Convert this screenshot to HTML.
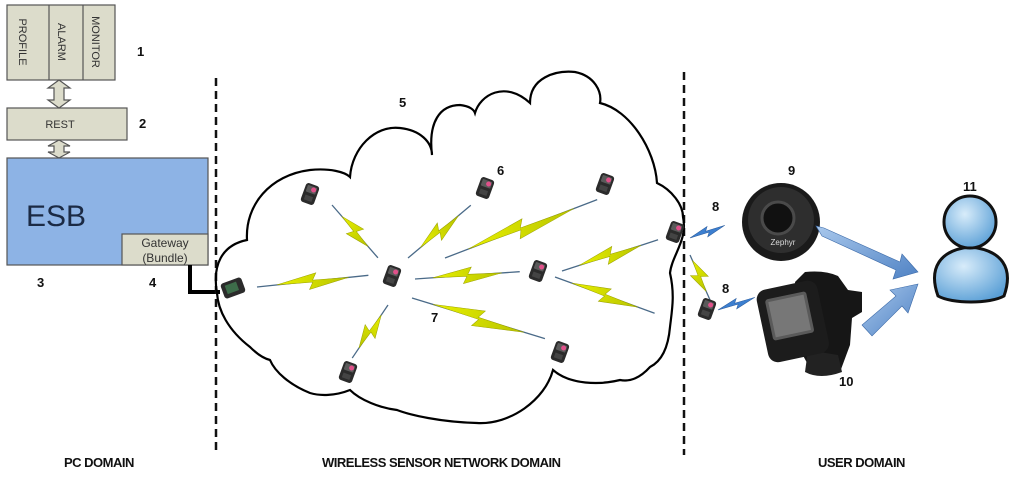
<!DOCTYPE html>
<html><head><meta charset="utf-8"><style>
html,body{margin:0;padding:0;background:#fff;}
svg{display:block;font-family:"Liberation Sans",sans-serif;}
.n{font-weight:bold;font-size:13px;fill:#111;}
.d{font-weight:bold;font-size:13px;fill:#111;letter-spacing:-0.5px;}
</style></head><body>
<svg width="1024" height="477" viewBox="0 0 1024 477" xmlns="http://www.w3.org/2000/svg">
<defs>
<linearGradient id="bolt" x1="0" y1="0" x2="1" y2="0"><stop offset="0" stop-color="#e8f000"/><stop offset="1" stop-color="#b8c400"/></linearGradient>
<radialGradient id="per" cx="0.4" cy="0.35" r="0.7"><stop offset="0" stop-color="#d8ecfa"/><stop offset="1" stop-color="#5a9fd6"/></radialGradient>
<linearGradient id="arr" x1="0" y1="0" x2="1" y2="1"><stop offset="0" stop-color="#a9c8ec"/><stop offset="1" stop-color="#4f82c4"/></linearGradient>
<g id="sen"><rect x="-7" y="-10" width="14" height="20" rx="3" fill="#2b2b2b"/><rect x="-5" y="-8" width="10" height="7" rx="1" fill="#5a5a5a"/><circle cx="2" cy="-5" r="2.5" fill="#e0508a"/><rect x="-4" y="2" width="8" height="5" fill="#444"/></g>
</defs>
<g stroke="#555" stroke-width="1.2" fill="#dcdccb">
<rect x="7" y="5" width="108" height="75"/>
<line x1="49" y1="5" x2="49" y2="80"/><line x1="83" y1="5" x2="83" y2="80"/>
<rect x="7" y="108" width="120" height="32"/>
<path d="M59,80 L48,88 L54,88 L54,100 L48,100 L59,108 L70,100 L64,100 L64,88 L70,88 Z"/>
<path d="M59,140 L48,146 L54,146 L54,152 L48,152 L59,158 L70,152 L64,152 L64,146 L70,146 Z"/>
</g>
<rect x="7" y="158" width="201" height="107" fill="#8db3e5" stroke="#555" stroke-width="1.2"/>
<rect x="122" y="234" width="86" height="31" fill="#dcdccb" stroke="#555" stroke-width="1.2"/>
<g font-size="11" fill="#333" text-anchor="middle">
<text transform="translate(23,42) rotate(90)" x="0" y="4">PROFILE</text>
<text transform="translate(62,42) rotate(90)" x="0" y="4">ALARM</text>
<text transform="translate(96,42) rotate(90)" x="0" y="4">MONITOR</text>
<text x="60" y="128">REST</text>
<text x="165" y="247" font-size="12">Gateway</text>
<text x="165" y="262" font-size="12">(Bundle)</text>
</g>
<text x="56" y="226" font-size="30" fill="#1b2a44" text-anchor="middle">ESB</text>
<polyline points="190,265 190,292 220,292" fill="none" stroke="#000" stroke-width="4"/>
<line x1="216" y1="78" x2="216" y2="455" stroke="#111" stroke-width="2.5" stroke-dasharray="8,5"/>
<line x1="684" y1="72" x2="684" y2="455" stroke="#111" stroke-width="2.5" stroke-dasharray="8,5"/>
<path d="M217,293 C212,265 222,245 247,240 C245,205 270,175 310,170 C330,168 345,172 350,177 C352,148 375,125 400,128 C420,130 432,142 432,155 C428,122 440,105 460,105 C470,106 474,110 475,113 C480,95 505,80 530,103 C530,78 555,70 575,72 C595,76 602,92 600,103 C630,110 655,150 657,183 C672,190 683,205 683,217 C688,240 672,255 670,273 C675,295 672,310 670,327 C668,350 660,362 650,367 C640,378 630,382 620,380 C600,385 570,385 553,370 C545,400 510,425 477,423 C440,422 410,415 397,410 C380,408 360,400 350,390 C335,396 320,396 310,393 C290,385 275,372 270,360 C262,358 255,352 250,347 C228,330 218,310 217,293 Z" fill="none" stroke="#000" stroke-width="2.2"/>
<g stroke="#4a6a88" stroke-width="1.3" fill="url(#bolt)">
<g transform="translate(332,205) rotate(49)"><line x1="0" y1="0" x2="70" y2="0"/><polygon stroke="#9aa000" stroke-width="0.5" points="15,0 39,-8 36,-1 55,0 31,8 34,1"/></g>
<g transform="translate(257,287) rotate(-6)"><line x1="0" y1="0" x2="112" y2="0"/><polygon stroke="#9aa000" stroke-width="0.5" points="20,0 60,-8 56,-1 92,0 52,8 56,1"/></g>
<g transform="translate(408,258) rotate(-40)"><line x1="0" y1="0" x2="82" y2="0"/><polygon stroke="#9aa000" stroke-width="0.5" points="16,0 45,-8 41,-1 66,0 37,8 41,1"/></g>
<g transform="translate(445,258) rotate(-21)"><line x1="0" y1="0" x2="163" y2="0"/><polygon stroke="#9aa000" stroke-width="0.5" points="25,0 86,-9 81,-1 138,0 77,9 81,1"/></g>
<g transform="translate(415,279) rotate(-4)"><line x1="0" y1="0" x2="105" y2="0"/><polygon stroke="#9aa000" stroke-width="0.5" points="18,0 57,-8 53,-1 87,0 48,8 52,1"/></g>
<g transform="translate(562,271) rotate(-18)"><line x1="0" y1="0" x2="101" y2="0"/><polygon stroke="#9aa000" stroke-width="0.5" points="18,0 55,-8 51,-1 83,0 46,8 50,1"/></g>
<g transform="translate(555,277) rotate(20)"><line x1="0" y1="0" x2="106" y2="0"/><polygon stroke="#9aa000" stroke-width="0.5" points="18,0 57,-8 53,-1 88,0 49,8 53,1"/></g>
<g transform="translate(412,298) rotate(17)"><line x1="0" y1="0" x2="139" y2="0"/><polygon stroke="#9aa000" stroke-width="0.5" points="22,0 74,-9 69,-1 117,0 65,9 70,1"/></g>
<g transform="translate(388,305) rotate(124)"><line x1="0" y1="0" x2="64" y2="0"/><polygon stroke="#9aa000" stroke-width="0.5" points="12,0 35,-8 32,-1 52,0 29,8 32,1"/></g>
<g transform="translate(690,255) rotate(66)"><line x1="0" y1="0" x2="49" y2="0"/><polygon stroke="#9aa000" stroke-width="0.5" points="6,0 27,-8 24,-1 40,0 19,8 22,1"/></g>
</g>
<g fill="#3c7fd0" stroke="#2a5a9a" stroke-width="0.5">
<g transform="translate(690,238) rotate(-20)"><polygon points="0,0 20,-5 17,-1 37,0 17,5 20,1"/></g>
<g transform="translate(718,310) rotate(-19)"><polygon points="0,0 21,-5 18,-1 39,0 18,5 21,1"/></g>
</g>
<use href="#sen" transform="translate(310,194) rotate(20)"/>
<use href="#sen" transform="translate(485,188) rotate(20)"/>
<use href="#sen" transform="translate(605,184) rotate(20)"/>
<use href="#sen" transform="translate(392,276) rotate(20)"/>
<use href="#sen" transform="translate(538,271) rotate(20)"/>
<use href="#sen" transform="translate(560,352) rotate(20)"/>
<use href="#sen" transform="translate(348,372) rotate(20)"/>
<use href="#sen" transform="translate(675,232) rotate(20)"/>
<use href="#sen" transform="translate(707,309) rotate(20)"/>
<g transform="translate(233,288) rotate(-20)"><rect x="-11" y="-8" width="22" height="16" rx="3" fill="#2b2b2b"/><rect x="-7" y="-5" width="12" height="9" fill="#3d6d4a"/></g>
<!-- zephyr -->
<circle cx="781" cy="222" r="39" fill="#1a1a1a"/>
<circle cx="781" cy="220" r="33" fill="#2e2e2e"/>
<circle cx="778" cy="218" r="16" fill="#111" stroke="#4a4a4a" stroke-width="3"/>
<text x="783" y="245" font-size="8" fill="#ddd" text-anchor="middle">Zephyr</text>
<!-- watch -->
<path d="M795,282 L805,272 Q825,270 838,276 L848,290 L862,292 L862,312 L852,318 L850,345 L840,372 Q825,378 812,372 L800,350 Z" fill="#161616"/>
<path d="M805,372 Q820,380 842,372 L838,355 L808,350 Z" fill="#222"/>
<g transform="translate(795,322) rotate(-12)"><rect x="-33" y="-38" width="62" height="74" rx="10" fill="#1c1c1c"/><rect x="-25" y="-28" width="42" height="42" rx="3" fill="#5a5a5a"/><rect x="-22" y="-25" width="36" height="36" fill="#777"/></g>
<!-- arrows -->
<polygon points="816,226 822,236 896,270 893,279 918,272 902,254 900,262 824,228" fill="url(#arr)" stroke="#3c6aa8" stroke-width="0.6"/>
<polygon points="862,325 872,336 902,306 908,313 918,284 890,290 896,296" fill="url(#arr)" stroke="#3c6aa8" stroke-width="0.6"/>
<!-- person -->
<path d="M938,296 C928,268 940,250 970,247 C1002,250 1014,268 1004,296 C990,304 952,304 938,296 Z" fill="url(#per)" stroke="#111" stroke-width="3"/>
<circle cx="970" cy="222" r="26" fill="url(#per)" stroke="#111" stroke-width="3"/>
<text class="n" x="137" y="56">1</text>
<text class="n" x="139" y="128">2</text>
<text class="n" x="37" y="287">3</text>
<text class="n" x="149" y="287">4</text>
<text class="n" x="399" y="107">5</text>
<text class="n" x="497" y="175">6</text>
<text class="n" x="431" y="322">7</text>
<text class="n" x="712" y="211">8</text>
<text class="n" x="722" y="293">8</text>
<text class="n" x="788" y="175">9</text>
<text class="n" x="839" y="386">10</text>
<text class="n" x="963" y="191">11</text>
<text class="d" x="64" y="467">PC DOMAIN</text>
<text class="d" x="322" y="467">WIRELESS SENSOR NETWORK DOMAIN</text>
<text class="d" x="818" y="467">USER DOMAIN</text>
</svg>
</body></html>
